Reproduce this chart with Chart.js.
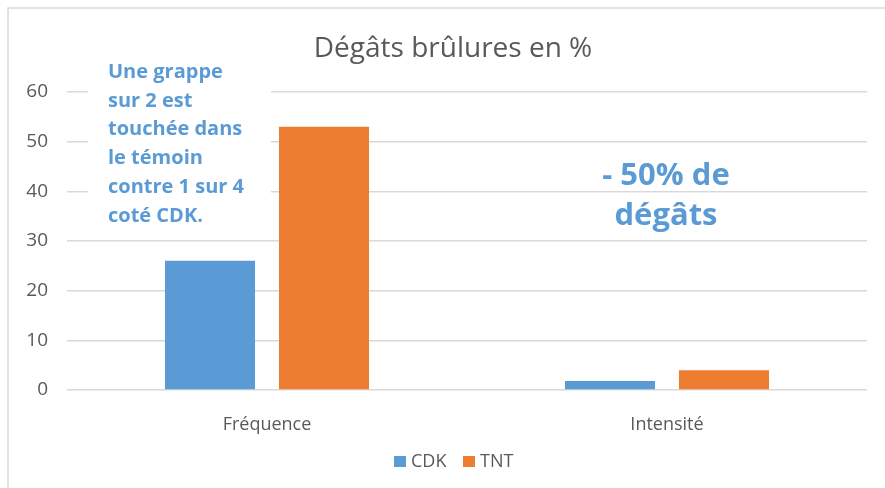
<!DOCTYPE html>
<html>
<head>
<meta charset="utf-8">
<script src="https://cdn.jsdelivr.net/npm/chart.js@4.4.0/dist/chart.umd.min.js"></script>
<style>
html,body{margin:0;padding:0;background:#fff;}
#wrap{width:885px;height:488px;position:relative;}
</style>
</head>
<body>
<div id="wrap"><canvas id="c" width="885" height="488"></canvas></div>
<script>
const categories = ["Fréquence", "Intensité"];
const seriesNames = ["CDK", "TNT"];
const cdkValues = [26, 1.8];
const tntValues = [53, 4];
const yTicks = [0, 10, 20, 30, 40, 50, 60];
const titleText = "Dégâts brûlures en %";
const noteLeft = ["Une grappe", "sur 2 est", "touchée dans", "le témoin", "contre 1 sur 4", "coté CDK."];
const noteRight = ["- 50% de", "dégâts"];

const BLUE = "#5b9bd5", ORANGE = "#ed7d31", GRAY = "#595959", GRID = "#d9d9d9";
const FONT = "'Open Sans', sans-serif";

const decor = {
  id: "decor",
  beforeDraw(chart) {
    const ctx = chart.ctx;
    ctx.save();
    ctx.fillStyle = "#fff";
    ctx.fillRect(0, 0, chart.width, chart.height);
    ctx.strokeStyle = GRID;
    ctx.lineWidth = 1.5;
    ctx.beginPath();
    ctx.moveTo(8, chart.height);
    ctx.lineTo(8, 8);
    ctx.lineTo(chart.width, 8);
    ctx.stroke();
    ctx.restore();
  },
  afterDraw(chart) {
    const ctx = chart.ctx;
    ctx.save();
    // title
    ctx.fillStyle = GRAY;
    ctx.font = "28px " + FONT;
    ctx.textAlign = "center";
    ctx.textBaseline = "alphabetic";
    ctx.fillText(titleText, 453, 57);
    // white text box of left note
    ctx.fillStyle = "#fff";
    ctx.fillRect(88, 45, 183, 195);
    // left note
    ctx.fillStyle = BLUE;
    ctx.font = "bold 20px " + FONT;
    ctx.textAlign = "left";
    noteLeft.forEach((t, i) => ctx.fillText(t, 108, 78 + i * 28.7));
    // right note
    ctx.font = "bold 31px " + FONT;
    ctx.textAlign = "center";
    noteRight.forEach((t, i) => ctx.fillText(t, 666, 185 + i * 40));
    // legend
    ctx.font = "18px " + FONT;
    ctx.textAlign = "left";
    ctx.textBaseline = "middle";
    const items = chart.data.datasets.map(d => ({label: d.label, color: d.backgroundColor}));
    const pos = [394, 463];
    items.forEach((it, i) => {
      ctx.fillStyle = it.color;
      ctx.fillRect(pos[i], 456, 12, 11);
      ctx.fillStyle = GRAY;
      ctx.fillText(it.label, pos[i] + 17, 462);
    });
    ctx.restore();
  }
};

new Chart(document.getElementById("c"), {
  type: "bar",
  data: {
    labels: categories,
    datasets: [
      {label: seriesNames[0], data: cdkValues, backgroundColor: BLUE},
      {label: seriesNames[1], data: tntValues, backgroundColor: ORANGE}
    ]
  },
  options: {
    responsive: false,
    animation: false,
    devicePixelRatio: 1,
    layout: {padding: {top: 92, right: 18, left: 0, bottom: 0}},
    datasets: {bar: {barPercentage: 0.79, categoryPercentage: 0.57}},
    plugins: {legend: {display: false}, title: {display: false}, tooltip: {enabled: false}},
    scales: {
      x: {
        grid: {display: false},
        border: {display: false},
        ticks: {color: GRAY, font: {family: FONT, size: 18}, padding: 16},
        afterFit(s) { s.height = 98; }
      },
      y: {
        min: 0, max: 60,
        afterBuildTicks(s) { s.ticks = yTicks.map(v => ({value: v})); },
        grid: {color: GRID, lineWidth: 1.5, drawTicks: false},
        border: {display: false},
        ticks: {color: GRAY, font: {family: FONT, size: 19}, padding: 19},
        afterFit(s) { s.width = 67; }
      }
    }
  },
  plugins: [decor]
});
</script>
</body>
</html>
